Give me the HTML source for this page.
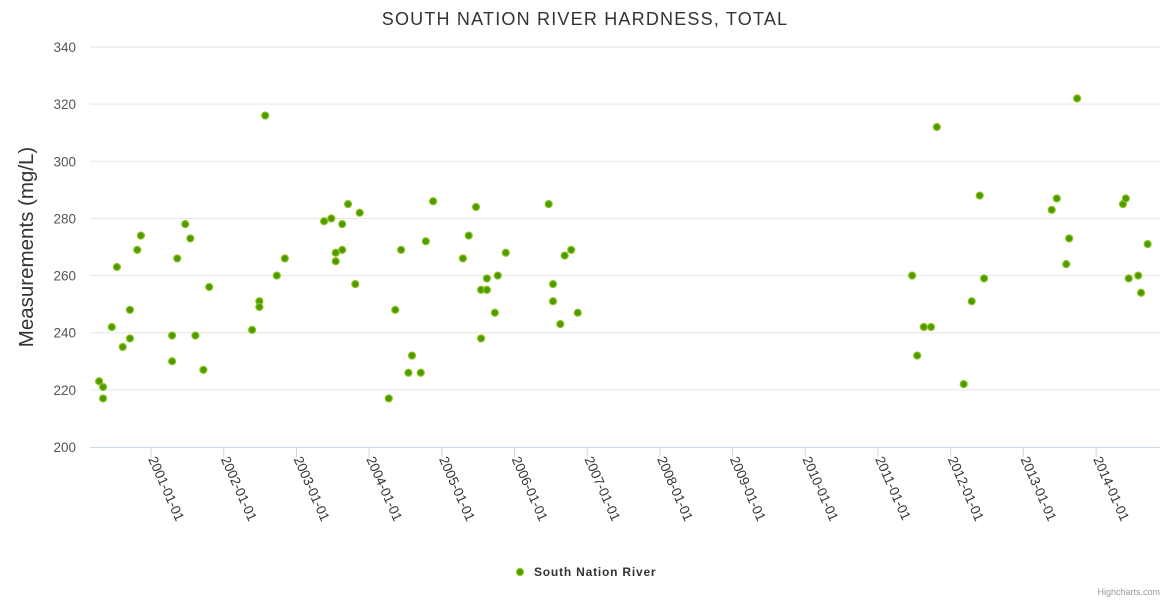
<!DOCTYPE html>
<html><head><meta charset="utf-8"><style>
body{margin:0;background:#fff;}
svg{display:block;font-family:"Liberation Sans",sans-serif;}
</style></head><body>
<svg id="chart" width="1170" height="600" xmlns="http://www.w3.org/2000/svg">
<text x="585" y="25" text-anchor="middle" font-size="18" fill="#333" letter-spacing="1.2">SOUTH NATION RIVER HARDNESS, TOTAL</text>
<text transform="translate(33,247) rotate(-90)" text-anchor="middle" font-size="20.5" fill="#333">Measurements (mg/L)</text>
<g id="grid"></g><g id="xaxis"></g><g id="points"></g>
<g>
<circle cx="520" cy="572" r="3.5" fill="#4c9a00" stroke="#8cc21a" stroke-width="1"/>
<text x="534" y="576" font-size="12" font-weight="bold" fill="#333" letter-spacing="0.8">South Nation River</text>
</g>
<text x="1160" y="595" text-anchor="end" font-size="9" fill="#999">Highcharts.com</text>
</svg>
<script>
const years = [2000.285,2000.34,2000.34,2000.46,2000.53,2000.61,2000.71,2000.71,2000.81,2000.86,2001.29,2001.29,2001.36,2001.47,2001.54,2001.61,2001.72,2001.80,2002.39,2002.49,2002.49,2002.57,2002.73,2002.84,2003.38,2003.48,2003.54,2003.54,2003.63,2003.63,2003.71,2003.81,2003.87,2004.27,2004.36,2004.44,2004.54,2004.59,2004.71,2004.78,2004.88,2005.29,2005.37,2005.47,2005.54,2005.54,2005.62,2005.62,2005.73,2005.77,2005.88,2006.47,2006.53,2006.53,2006.63,2006.69,2006.78,2006.87,2011.47,2011.54,2011.63,2011.73,2011.81,2012.18,2012.29,2012.40,2012.46,2013.39,2013.46,2013.59,2013.63,2013.74,2014.37,2014.41,2014.45,2014.58,2014.62,2014.71];
const values = [223,221,217,242,263,235,248,238,269,274,239,230,266,278,273,239,227,256,241,251,249,316,260,266,279,280,265,268,269,278,285,257,282,217,248,269,226,232,226,272,286,266,274,284,238,255,255,259,247,260,268,285,257,251,243,267,269,247,260,232,242,242,312,222,251,288,259,283,287,264,273,322,285,287,259,260,254,271];
const yTicks = [200,220,240,260,280,300,320,340];
const xTickYears = [2001,2002,2003,2004,2005,2006,2007,2008,2009,2010,2011,2012,2013,2014];
const NS="http://www.w3.org/2000/svg";
const L=90,R=1160,T=47,B=447,xMin=2000.16,xMax=2014.88,yMin=200,yMax=340;
const xs=v=>L+(v-xMin)/(xMax-xMin)*(R-L);
const ys=v=>B-(v-yMin)/(yMax-yMin)*(B-T);
function mk(tag,attrs,parent){const e=document.createElementNS(NS,tag);for(const k in attrs)e.setAttribute(k,attrs[k]);parent.appendChild(e);return e;}
const grid=document.getElementById('grid');
yTicks.forEach(t=>{
  const y=ys(t);
  if(t>yMin){const g=mk('line',{x1:L,x2:R,y1:y,y2:y,stroke:'#e6e6e6','stroke-width':1},grid);
  
  }
  const lb=mk('text',{x:76,y:y+5,'text-anchor':'end','font-size':13.5,fill:'#555'},grid);
  lb.textContent=t;
  
  
});
const xa=document.getElementById('xaxis');
const al=mk('line',{x1:L,x2:R,y1:B+0.5,y2:B+0.5,stroke:'#ccd6eb','stroke-width':1},xa);


xTickYears.forEach(yr=>{
  const x=xs(yr);
  const tk=mk('line',{x1:x,x2:x,y1:B,y2:B+10,stroke:'#ccd6eb','stroke-width':1},xa);
  
  
  const lb=mk('text',{transform:`translate(${x-3},${B+12}) rotate(66)`,'font-size':13.5,fill:'#333'},xa);
  lb.textContent=yr+'-01-01';
  
  
});
const pts=document.getElementById('points');
years.forEach((yr,i)=>{
  const c=mk('circle',{cx:xs(yr),cy:ys(values[i]),r:3.5,fill:'#4c9a00',stroke:'#8cc21a','stroke-width':1.2},pts);
  
  
});
</script>
</body></html>
